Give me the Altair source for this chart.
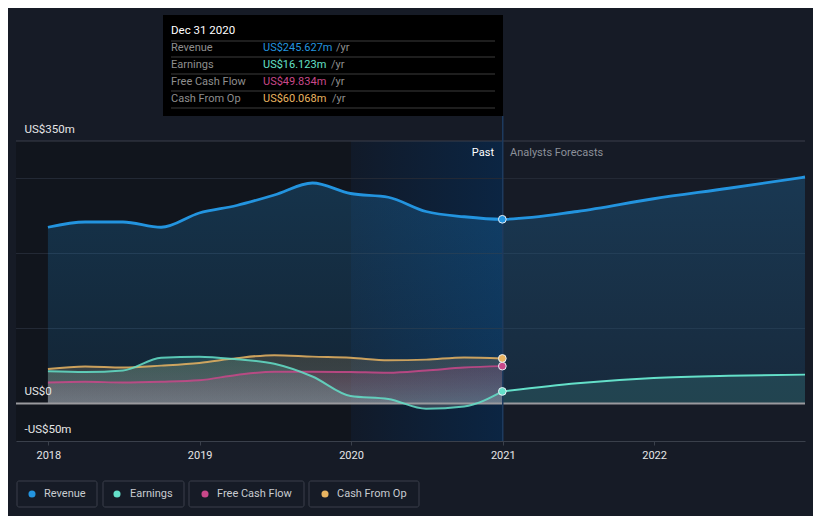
import altair as alt
import pandas as pd

# ---------------- data ----------------
past_dates = ["2017-12-31", "2018-03-31", "2018-06-30", "2018-09-30", "2018-12-31",
              "2019-03-31", "2019-06-30", "2019-09-30", "2019-12-31", "2020-03-31",
              "2020-06-30", "2020-09-30", "2020-12-31"]
revenue_past = [235, 242, 242, 235, 254, 264, 278, 294, 280, 275, 256, 249, 245.627]
earnings_past = [43, 42, 44, 61, 62.5, 59, 53, 36, 10, 6, -7, -4, 16.123]
fcf_past = [28, 29, 28, 29, 31, 38, 42.5, 42.5, 42, 41, 44, 48, 49.834]
cfo_past = [46, 49.5, 48, 50.5, 54, 60.5, 64.5, 62.5, 61, 57.6, 58.5, 61.5, 60.068]

fc_dates = ["2020-12-31", "2021-06-30", "2021-12-31", "2022-06-30", "2022-12-31"]
revenue_fc = [245.627, 256, 273, 287, 302]
earnings_fc = [16.123, 27, 34, 37, 38.5]

series_names = ["Revenue", "Earnings", "Free Cash Flow", "Cash From Op"]
tooltip_values = ["US$245.627m", "US$16.123m", "US$49.834m", "US$60.068m"]
year_ticks = [2018, 2019, 2020, 2021, 2022]

REV, EARN, FCF, CFO = "#2394DF", "#64E0C9", "#C9488A", "#E9B461"
COLORS = [REV, EARN, FCF, CFO]
BG = "#161B26"
FONT = "Roboto"

past = {"Revenue": revenue_past, "Earnings": earnings_past,
        "Free Cash Flow": fcf_past, "Cash From Op": cfo_past}


def frame(dates, vals):
    return pd.DataFrame({"date": dates, "value": vals})


one = pd.DataFrame({"k": [0]})

X_DOMAIN = [alt.DateTime(year=2017, month=10, date=15),
            alt.DateTime(year=2022, month=12, date=31)]
x_axis = alt.Axis(values=[alt.DateTime(year=y, month=1, date=1) for y in year_ticks],
                  format="%Y", title=None, grid=False, domainColor="#3A404B",
                  tickColor="#3A404B", tickSize=4, labelColor="#E6E6E6",
                  labelFontSize=11, labelPadding=4, labelFont=FONT, labelFlush=False,
                  zindex=1)
y_axis = alt.Axis(values=[-50, 0, 350],
                  labelExpr="datum.value == 0 ? 'US$0' : (datum.value < 0 ? '-US$' + abs(datum.value) + 'm' : 'US$' + datum.value + 'm')",
                  title=None, grid=False, domain=False, ticks=False, tickSize=0,
                  labelAlign="left", labelBaseline="bottom", labelPadding=-8,
                  labelOffset=-7, labelColor="#E6E6E6", labelFontSize=11.5,
                  labelFont=FONT, labelFlush=False, labelOverlap=False, zindex=1)


def xe(field="date"):
    return alt.X(f"{field}:T", scale=alt.Scale(domain=X_DOMAIN), axis=x_axis)


def ye():
    return alt.Y("value:Q", scale=alt.Scale(domain=[-50, 350], nice=False), axis=y_axis)


layers = []

# dark past region and highlighted last year
dark = alt.Chart(pd.DataFrame({"d0": ["2017-10-15"], "d1": ["2020-01-01"]})).mark_rect(
    color="#11151D").encode(x=xe("d0"), x2="d1:T", y=alt.value(0), y2=alt.value(300))
band = alt.Chart(pd.DataFrame({"d0": ["2020-01-01"], "d1": ["2021-01-01"]})).mark_rect(
    color=alt.Gradient(gradient="linear", x1=0, x2=1, y1=0, y2=0,
                       stops=[alt.GradientStop(color="#111A29", offset=0),
                              alt.GradientStop(color="#0B2543", offset=1)])
).encode(x=xe("d0"), x2="d1:T", y=alt.value(0), y2=alt.value(300))
layers += [dark, band]

# gridlines
grid = alt.Chart(pd.DataFrame({"value": [100, 200, 300]})).mark_rule(
    color="#232935", strokeWidth=1).encode(y=ye())
top = alt.Chart(pd.DataFrame({"value": [350]})).mark_rule(
    color="#3A3F4A", strokeWidth=1).encode(y=ye())
layers += [grid, top]

# revenue area (past + forecast)
rev_all = frame(past_dates + fc_dates[1:], revenue_past + revenue_fc[1:])
layers.append(alt.Chart(rev_all).mark_area(
    interpolate="monotone",
    color=alt.Gradient(gradient="linear", x1=0, x2=0, y1=0, y2=1,
                       stops=[alt.GradientStop(color="rgba(35,148,223,0.24)", offset=0),
                              alt.GradientStop(color="rgba(35,148,223,0.12)", offset=1)])
).encode(x=xe(), y=ye(), y2=alt.datum(0)))

# earnings forecast area
layers.append(alt.Chart(frame(fc_dates, earnings_fc)).mark_area(
    interpolate="monotone", color=EARN, opacity=0.14).encode(x=xe(), y=ye(), y2=alt.datum(0)))

# small series past areas
rgba = {"Earnings": "100,224,201", "Free Cash Flow": "201,72,138", "Cash From Op": "233,180,97"}
for name in ["Cash From Op", "Free Cash Flow", "Earnings"]:
    layers.append(alt.Chart(frame(past_dates, past[name])).mark_area(
        interpolate="monotone",
        color=alt.Gradient(gradient="linear", x1=0, x2=0, y1=0, y2=1,
                           stops=[alt.GradientStop(color=f"rgba({rgba[name]},0.16)", offset=0),
                                  alt.GradientStop(color="rgba(180,175,180,0.25)", offset=1)])
    ).encode(x=xe(), y=ye(), y2=alt.datum(0)))

# zero line
layers.append(alt.Chart(pd.DataFrame({"value": [0]})).mark_rule(
    color="#9A9A9E", strokeWidth=2).encode(y=ye()))

# divider at the last reported date
layers.append(alt.Chart(pd.DataFrame({"date": ["2021-01-01"]})).mark_rule(
    color="#1D3A5E", strokeWidth=1.5).encode(x=xe(), y=alt.value(-25), y2=alt.value(300)))

# lines
for name, col in [("Cash From Op", CFO), ("Free Cash Flow", FCF), ("Earnings", EARN)]:
    layers.append(alt.Chart(frame(past_dates, past[name])).mark_line(
        interpolate="monotone", color=col, strokeWidth=2, opacity=0.85).encode(x=xe(), y=ye()))
layers.append(alt.Chart(frame(fc_dates, earnings_fc)).mark_line(
    interpolate="monotone", color=EARN, strokeWidth=2).encode(x=xe(), y=ye()))
layers.append(alt.Chart(rev_all).mark_line(
    interpolate="monotone", color=REV, strokeWidth=2.8).encode(x=xe(), y=ye()))

# dots at last reported values
for name, col in zip(series_names, COLORS):
    layers.append(alt.Chart(frame([past_dates[-1]], [past[name][-1]])).mark_point(
        filled=True, fill=col, stroke="#E8EEF5", strokeWidth=1, size=60, opacity=1
    ).encode(x=xe(), y=ye()))

# Past / Analysts Forecasts
layers.append(alt.Chart(one).mark_text(text="Past", align="right", baseline="middle",
                                        color="#FFFFFF", fontSize=11, font=FONT
                                        ).encode(x=alt.value(478), y=alt.value(12)))
layers.append(alt.Chart(one).mark_text(text="Analysts Forecasts", align="left", baseline="middle",
                                        color="#8C9099", fontSize=11, font=FONT
                                        ).encode(x=alt.value(494), y=alt.value(12)))

# tooltip box
layers.append(alt.Chart(one).mark_rect(color="#000000").encode(
    x=alt.value(147), x2=alt.value(487), y=alt.value(-126), y2=alt.value(-25)))
layers.append(alt.Chart(one).mark_text(text="Dec 31 2020", align="left", baseline="middle",
                                        color="#FFFFFF", fontSize=11.5, font=FONT
                                        ).encode(x=alt.value(155), y=alt.value(-110)))
for ly in [-100, -84, -67, -50, -33]:
    layers.append(alt.Chart(one).mark_rule(color="#3C3C3C", strokeWidth=1).encode(
        x=alt.value(155), x2=alt.value(479), y=alt.value(ly)))
yr_x = [320, 315, 315, 316]
for i, (name, val, col) in enumerate(zip(series_names, tooltip_values, COLORS)):
    ry = -93 + 17 * i
    layers.append(alt.Chart(one).mark_text(text=name, align="left", baseline="middle",
                                            color="#8E8E8E", fontSize=11, font=FONT
                                            ).encode(x=alt.value(155), y=alt.value(ry)))
    layers.append(alt.Chart(one).mark_text(text=val, align="left", baseline="middle",
                                            color=col, fontSize=11, font=FONT
                                            ).encode(x=alt.value(247), y=alt.value(ry)))
    layers.append(alt.Chart(one).mark_text(text="/yr", align="left", baseline="middle",
                                            color="#8E8E8E", fontSize=11, font=FONT
                                            ).encode(x=alt.value(yr_x[i]), y=alt.value(ry)))

# legend
box_x = [1, 87, 173, 293]
box_x2 = [81, 168, 288, 403]
dot_x = [16, 101, 189, 309]
txt_x = [28, 114, 201, 321]
for i, (name, col) in enumerate(zip(series_names, COLORS)):
    layers.append(alt.Chart(one).mark_rect(fill=BG, stroke="#3A3F4A", strokeWidth=1,
                                            cornerRadius=2).encode(
        x=alt.value(box_x[i]), x2=alt.value(box_x2[i]), y=alt.value(340), y2=alt.value(366)))
    layers.append(alt.Chart(one).mark_circle(color=col, size=50, opacity=1).encode(
        x=alt.value(dot_x[i]), y=alt.value(353)))
    layers.append(alt.Chart(one).mark_text(text=name, align="left", baseline="middle",
                                            color="#C8CBD0", fontSize=11, font=FONT
                                            ).encode(x=alt.value(txt_x[i]), y=alt.value(353)))

chart = alt.layer(*layers).properties(
    width=789, height=300,
    padding={"left": 8, "top": 133, "right": 8, "bottom": 75},
    autosize=alt.AutoSizeParams(type="none"),
    background=BG,
).configure_view(stroke=None)

chart.save("out.html", embed_options={"renderer": "svg", "actions": False})
